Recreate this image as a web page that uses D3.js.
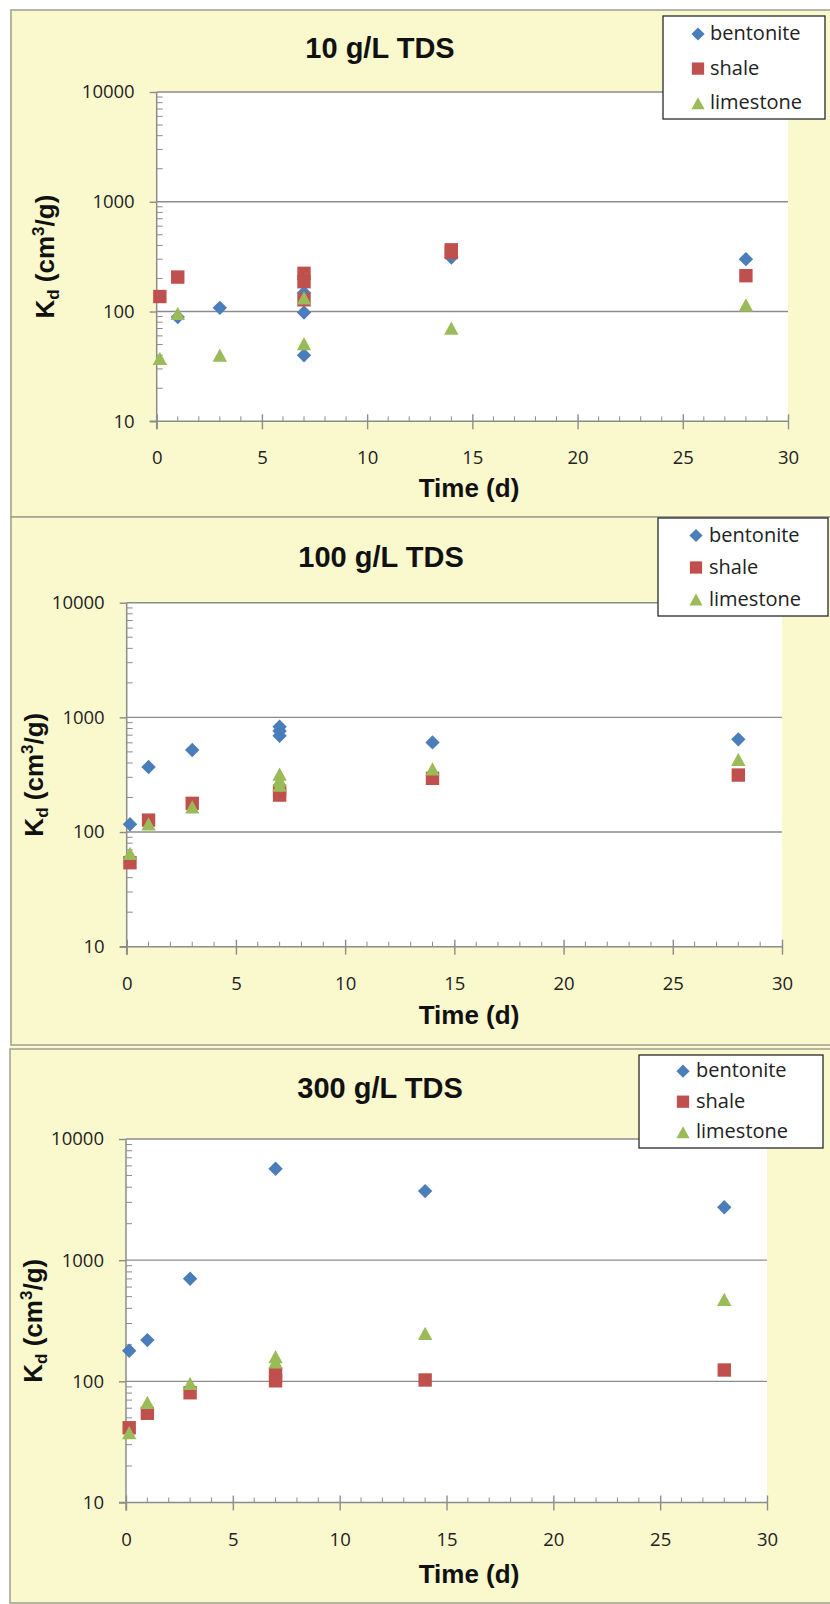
<!DOCTYPE html>
<html>
<head>
<meta charset="utf-8">
<script src="https://cdn.jsdelivr.net/npm/d3@7"></script>
<style>
  body { margin: 0; background: #ffffff; }
  svg { display: block; }
</style>
</head>
<body>
<svg id="chart" width="830" height="1604"></svg>
<script>
// ---- data -------------------------------------------------------------
const panelTitles = ["10 g/L TDS", "100 g/L TDS", "300 g/L TDS"];
const seriesNames = ["bentonite", "shale", "limestone"];
const seriesColors = ["#4A7EBB", "#C0504D", "#9BBB59"];
const xTickValues = [0, 5, 10, 15, 20, 25, 30];
const yTickValues = [10, 100, 1000, 10000];

// each point: [time (d), Kd (cm3/g)]
const bentonite10 = [[1, 89], [3, 108], [7, 98], [7, 148], [7, 40], [14, 310], [28, 300]];
const shale10 = [[0.15, 137], [1, 206], [7, 223], [7, 187], [7, 128], [14, 365], [14, 345], [28, 212]];
const limestone10 = [[0.15, 37.5], [1, 96], [3, 40], [7, 51], [7, 133], [14, 70.5], [28, 115]];

const bentonite100 = [[0.15, 117], [1, 369], [3, 519], [7, 828], [7, 760], [7, 690], [14, 605], [28, 643]];
const shale100 = [[0.15, 54], [1, 127], [3, 178], [7, 210], [7, 228], [14, 294], [28, 314]];
const limestone100 = [[0.15, 65], [1, 118], [3, 166], [7, 320], [7, 284], [7, 257], [14, 355], [28, 430]];

const bentonite300 = [[0.15, 179], [1, 219], [3, 703], [7, 5675], [14, 3715], [28, 2730]];
const shale300 = [[0.15, 41.4], [1, 54.5], [3, 80.5], [7, 115], [7, 101], [14, 102.6], [28, 124]];
const limestone300 = [[0.15, 37.7], [1, 67], [3, 96], [7, 160], [7, 145], [14, 249], [28, 475]];

const panelSeries = [
  [bentonite10, shale10, limestone10],
  [bentonite100, shale100, limestone100],
  [bentonite300, shale300, limestone300]
];

// ---- layout -----------------------------------------------------------
const layout = [
  { box: { x: 11, y: 10, h: 507 }, plot: { l: 156.7, r: 788, t: 92, b: 421.3 },
    titleX: 380, titleY: 48, xLabX: 469, xLabY: 488, yLabX: 45,
    legend: { x: 663, y: 16, w: 162, h: 103, row0: 33.5, gap: 34.6, mx: 698, tx: 710 } },
  { box: { x: 11, y: 517, h: 528 }, plot: { l: 126.7, r: 782, t: 602.7, b: 946.7 },
    titleX: 381, titleY: 557, xLabX: 469, xLabY: 1015, yLabX: 34,
    legend: { x: 658, y: 518, w: 170, h: 98, row0: 535, gap: 32, mx: 696, tx: 709 } },
  { box: { x: 10, y: 1049, h: 554 }, plot: { l: 126, r: 767, t: 1139, b: 1502.5 },
    titleX: 380, titleY: 1087.5, xLabX: 469, xLabY: 1574, yLabX: 33,
    legend: { x: 639, y: 1055, w: 184, h: 93, row0: 1070.7, gap: 30.5, mx: 683, tx: 696 } }
];

const BG = "#FAF8CD";
const AXIS = "#8C8C8C";

// ---- marker shapes (size = half extent in px) -------------------------
const diamondType = { draw(ctx, size) { const r = size; ctx.moveTo(0, -r); ctx.lineTo(r, 0); ctx.lineTo(0, r); ctx.lineTo(-r, 0); ctx.closePath(); } };
const squareType = { draw(ctx, size) { const r = size * 0.93; ctx.rect(-r, -r, 2 * r, 2 * r); } };
const triangleType = { draw(ctx, size) { const r = size; ctx.moveTo(0, -r * 0.92); ctx.lineTo(r, r * 0.92); ctx.lineTo(-r, r * 0.92); ctx.closePath(); } };
const symbolTypes = [diamondType, squareType, triangleType];

const svg = d3.select("#chart");

// chart area background
svg.append("rect").attr("x", 10).attr("y", 10).attr("width", 820).attr("height", 1594).attr("fill", BG);

layout.forEach((L, i) => {
  const g = svg.append("g");
  const P = L.plot;

  // panel frame
  g.append("rect")
    .attr("x", L.box.x).attr("y", L.box.y)
    .attr("width", 830).attr("height", L.box.h)
    .attr("fill", BG).attr("stroke", "#A3A394").attr("stroke-width", 1.6);

  const x = d3.scaleLinear().domain([0, 30]).range([P.l, P.r]);
  const y = d3.scaleLog().domain([10, 10000]).range([P.b, P.t]);

  // plot area
  g.append("rect").attr("x", P.l).attr("y", P.t)
    .attr("width", P.r - P.l).attr("height", P.b - P.t).attr("fill", "#ffffff");

  // horizontal gridlines at the decades
  g.append("g").selectAll("line").data(yTickValues.slice(1)).join("line")
    .attr("x1", P.l).attr("x2", P.r)
    .attr("y1", d => y(d)).attr("y2", d => y(d))
    .attr("stroke", AXIS).attr("stroke-width", 1.4);

  // minor y ticks (inside)
  const minorY = [];
  [10, 100, 1000].forEach(d => { for (let m = 2; m <= 9; m++) minorY.push(d * m); });
  g.append("g").selectAll("line").data(minorY).join("line")
    .attr("x1", P.l).attr("x2", P.l + 6)
    .attr("y1", d => y(d)).attr("y2", d => y(d))
    .attr("stroke", AXIS).attr("stroke-width", 1);

  // minor x ticks (inside)
  g.append("g").selectAll("line").data(d3.range(0, 31).filter(d => d % 5 !== 0)).join("line")
    .attr("x1", d => x(d)).attr("x2", d => x(d))
    .attr("y1", P.b - 5).attr("y2", P.b)
    .attr("stroke", AXIS).attr("stroke-width", 1);

  // y axis
  const yAxis = g.append("g").attr("transform", `translate(${P.l},0)`)
    .call(d3.axisLeft(y).tickValues(yTickValues).tickFormat(d3.format("d"))
      .tickSizeInner(7).tickSizeOuter(0).tickPadding(15));
  yAxis.select(".domain").remove();
  yAxis.selectAll(".tick line").attr("stroke", AXIS).attr("stroke-width", 1.4);
  yAxis.selectAll(".tick text")
    .attr("font-family", "'Open Sans', sans-serif").attr("font-size", 18.5).attr("fill", "#222");

  // x axis
  const xAxis = g.append("g").attr("transform", `translate(0,${P.b})`)
    .call(d3.axisBottom(x).tickValues(xTickValues).tickFormat(d3.format("d"))
      .tickSizeInner(8).tickSizeOuter(0).tickPadding(22));
  xAxis.select(".domain").remove();
  xAxis.selectAll(".tick line").attr("y1", -7).attr("y2", 8)
    .attr("stroke", AXIS).attr("stroke-width", 1.4);
  xAxis.selectAll(".tick text")
    .attr("font-family", "'Open Sans', sans-serif").attr("font-size", 18.5).attr("fill", "#222");

  // axis lines
  g.append("line").attr("x1", P.l).attr("x2", P.l).attr("y1", P.t).attr("y2", P.b + 8)
    .attr("stroke", AXIS).attr("stroke-width", 1.5);
  g.append("line").attr("x1", P.l - 7).attr("x2", P.r).attr("y1", P.b).attr("y2", P.b)
    .attr("stroke", AXIS).attr("stroke-width", 1.5);

  // points
  panelSeries[i].forEach((pts, s) => {
    const sym = d3.symbol().type(symbolTypes[s]).size(7.2);
    g.append("g").selectAll("path").data(pts).join("path")
      .attr("d", sym)
      .attr("transform", d => `translate(${x(d[0])},${y(d[1])})`)
      .attr("fill", seriesColors[s]);
  });

  // title
  g.append("text").attr("x", L.titleX).attr("y", L.titleY).attr("dy", "0.36em")
    .attr("text-anchor", "middle")
    .attr("font-family", "'Liberation Sans', Arial, sans-serif").attr("font-weight", "bold")
    .attr("font-size", 29).attr("fill", "#111").text(panelTitles[i]);

  // x axis title
  g.append("text").attr("x", L.xLabX).attr("y", L.xLabY).attr("dy", "0.36em")
    .attr("text-anchor", "middle")
    .attr("font-family", "'Liberation Sans', Arial, sans-serif").attr("font-weight", "bold")
    .attr("font-size", 26).attr("fill", "#111").text("Time (d)");

  // y axis title: K_d (cm^3/g)
  const yt = g.append("text")
    .attr("transform", `translate(${L.yLabX},${(P.t + P.b) / 2}) rotate(-90)`)
    .attr("text-anchor", "middle").attr("dy", "0.36em")
    .attr("font-family", "'Liberation Sans', Arial, sans-serif").attr("font-weight", "bold")
    .attr("font-size", 26).attr("fill", "#111");
  yt.append("tspan").text("K");
  yt.append("tspan").attr("font-size", 17).attr("dy", 5).text("d");
  yt.append("tspan").attr("dy", -5).text(" (cm");
  yt.append("tspan").attr("font-size", 17).attr("dy", -10).text("3");
  yt.append("tspan").attr("dy", 10).text("/g)");

  // legend
  const Lg = L.legend;
  const lg = g.append("g");
  lg.append("rect").attr("x", Lg.x).attr("y", Lg.y).attr("width", Lg.w).attr("height", Lg.h)
    .attr("fill", "#ffffff").attr("stroke", "#2a2a2a").attr("stroke-width", 1.3);
  seriesNames.forEach((name, s) => {
    const ry = Lg.row0 + s * Lg.gap;
    lg.append("path")
      .attr("d", d3.symbol().type(symbolTypes[s]).size(6.6)())
      .attr("transform", `translate(${Lg.mx},${ry + 0.5})`)
      .attr("fill", seriesColors[s]);
    lg.append("text").attr("x", Lg.tx).attr("y", ry + 6.5)
      .attr("font-family", "'Open Sans', sans-serif").attr("font-size", 20)
      .attr("fill", "#222").text(name);
  });
});
</script>
</body>
</html>
